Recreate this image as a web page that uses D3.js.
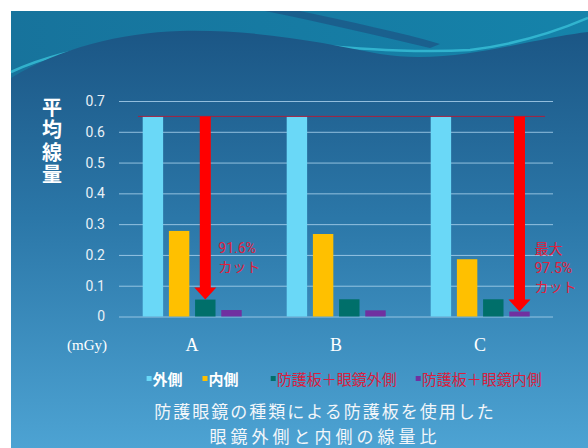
<!DOCTYPE html>
<html>
<head>
<meta charset="utf-8">
<script src="https://cdn.jsdelivr.net/npm/d3@7"></script>
<style>
  body { margin: 0; background: #fff; }
  svg { display: block; }
</style>
</head>
<body>
<svg id="chart" width="588" height="448"></svg>
<script>
// data
const categories = ['A', 'B', 'C'];
const seriesNames = ['外側', '内側', '防護板＋眼鏡外側', '防護板＋眼鏡内側'];
const seriesColors = ['#6ad8f7', '#ffc000', '#006f6a', '#7030a0'];
const outerValues = [0.65, 0.65, 0.65];
const innerValues = [0.278, 0.268, 0.186];
const shieldOuterValues = [0.055, 0.056, 0.056];
const shieldInnerValues = [0.021, 0.020, 0.016];
const yTicks = [0, 0.1, 0.2, 0.3, 0.4, 0.5, 0.6, 0.7];
const yTitle = '平均線量';
const unitLabel = '(mGy)';
const titleLines = ['防護眼鏡の種類による防護板を使用した', '眼鏡外側と内側の線量比'];
const cutNotes = [
  { cat: 'A', series: 2, lines: ['91.6%', 'カット'] },
  { cat: 'C', series: 3, lines: ['最大', '97.5%', 'カット'] }
];
const refValue = 0.65;

const seriesValues = [outerValues, innerValues, shieldOuterValues, shieldInnerValues];
const rows = categories.map((c, i) => ({
  cat: c,
  vals: seriesNames.map((s, j) => ({ cat: c, s: j, v: seriesValues[j][i] }))
}));

const svg = d3.select('#chart');
const jp = '"Noto Sans CJK JP", "Noto Sans", sans-serif';

// background
const defs = svg.append('defs');
const bg = defs.append('linearGradient').attr('id', 'bg').attr('x1', 0).attr('y1', 0).attr('x2', 0).attr('y2', 1);
bg.append('stop').attr('offset', '0').attr('stop-color', '#1b5685');
bg.append('stop').attr('offset', '0.45').attr('stop-color', '#2b77a8');
bg.append('stop').attr('offset', '1').attr('stop-color', '#4da3d3');
const topGrad = defs.append('linearGradient').attr('id', 'topg').attr('x1', 0).attr('y1', 0).attr('x2', 1).attr('y2', 0);
topGrad.append('stop').attr('offset', '0').attr('stop-color', '#17739c');
topGrad.append('stop').attr('offset', '1').attr('stop-color', '#1583aa');

svg.append('rect').attr('x', 11).attr('y', 11).attr('width', 577).attr('height', 437).attr('fill', 'url(#topg)');
// dark diagonal streak
svg.append('path')
  .attr('d', 'M265,11 L300,11 C350,22 400,32 440,44 L430,48 C380,36 320,22 265,11 Z')
  .attr('fill', '#1b5a8a').attr('opacity', 0.85);
// light streak
svg.append('path')
  .attr('d', 'M11,72 C80,40 160,38 260,42 C340,46 400,54 470,50 C520,44 560,30 588,18')
  .attr('fill', 'none').attr('stroke', '#38c0d8').attr('stroke-width', 2.5).attr('opacity', 0.8);
// main body
svg.append('path')
  .attr('d', 'M11,78 C60,48 120,33 180,31 C260,29 330,44 380,54 C430,62 480,52 520,44 C550,38 570,34 588,32 L588,448 L11,448 Z')
  .attr('fill', 'url(#bg)');

// scales
const x0 = d3.scaleBand().domain(categories).range([120, 552]);
const x1 = d3.scaleBand().domain(d3.range(seriesNames.length)).range([22.7, 121.7]).paddingInner(0.22);
const y = d3.scaleLinear().domain([0, 0.7]).range([316.5, 101]);

// grid + y axis
const yAxis = d3.axisLeft(y).tickValues(yTicks).tickFormat(d => d === 0 ? '0' : d3.format('.1f')(d)).tickSize(-434).tickPadding(14);
const ax = svg.append('g').attr('transform', 'translate(119,0)').call(yAxis);
ax.select('.domain').remove();
ax.selectAll('.tick line').attr('stroke', '#a6cfea').attr('stroke-width', 1).attr('opacity', 0.85);
ax.selectAll('.tick text').attr('fill', '#e8f0f6').attr('font-family', 'Roboto, "Noto Sans", sans-serif').attr('font-size', 14);

// bars
const groups = svg.append('g').selectAll('g').data(rows).enter().append('g')
  .attr('transform', d => `translate(${x0(d.cat)},0)`);
groups.selectAll('rect').data(d => d.vals).enter().append('rect')
  .attr('x', d => x1(d.s))
  .attr('y', d => y(d.v))
  .attr('width', x1.bandwidth())
  .attr('height', d => y(0) - y(d.v))
  .attr('fill', d => seriesColors[d.s]);

// reference line
svg.append('line')
  .attr('x1', 138).attr('x2', 545)
  .attr('y1', y(refValue)).attr('y2', y(refValue))
  .attr('stroke', '#a8203e').attr('stroke-width', 1);

// arrows and notes
cutNotes.forEach(n => {
  const ci = categories.indexOf(n.cat);
  const cx = x0(n.cat) + x1(n.series) + x1.bandwidth() / 2;
  const tipY = y(seriesValues[n.series][ci]);
  const y0 = y(refValue);
  const headH = 12;
  svg.append('path')
    .attr('d', `M${cx - 5.5},${y0} L${cx + 5.5},${y0} L${cx + 5.5},${tipY - headH} L${cx + 11},${tipY - headH} L${cx},${tipY} L${cx - 11},${tipY - headH} L${cx - 5.5},${tipY - headH} Z`)
    .attr('fill', '#ff0000');
  const tx = n.lines.length === 2 ? cx + 13 : cx + 15;
  const startY = n.lines.length === 2 ? 253 : 254;
  svg.append('g').selectAll('text').data(n.lines).enter().append('text')
    .attr('x', tx).attr('y', (d, i) => startY + i * 19)
    .attr('fill', '#e0203c')
    .attr('font-family', 'Roboto, ' + jp).attr('font-size', 14)
    .text(d => d);
});

// y title (vertical)
svg.append('text')
  .attr('x', 52).attr('y', 97)
  .style('writing-mode', 'vertical-rl')
  .attr('letter-spacing', 2.5)
  .attr('fill', '#ffffff').attr('font-weight', 'bold')
  .attr('font-family', jp).attr('font-size', 20)
  .text(yTitle);

// category labels
svg.append('g').selectAll('text').data(categories).enter().append('text')
  .attr('x', d => x0(d) + x0.bandwidth() / 2).attr('y', 351)
  .attr('text-anchor', 'middle')
  .attr('fill', '#ffffff')
  .attr('font-family', '"Liberation Serif", "DejaVu Serif", serif').attr('font-size', 18)
  .text(d => d);
svg.append('text').attr('x', 87).attr('y', 350).attr('text-anchor', 'middle')
  .attr('fill', '#ffffff').attr('font-family', '"Liberation Serif", serif').attr('font-size', 15)
  .text(unitLabel);

// legend
const legendX = [146.6, 202.5, 270.7, 415.7];
const legendTextColor = ['#ffffff', '#ffffff', '#d8203e', '#d8203e'];
const leg = svg.append('g').selectAll('g').data(seriesNames).enter().append('g')
  .attr('transform', (d, i) => `translate(${legendX[i]},0)`);
leg.append('rect').attr('x', 0).attr('y', 376).attr('width', 5).attr('height', 5)
  .attr('fill', (d, i) => seriesColors[i]);
leg.append('text').attr('x', 6).attr('y', 385)
  .attr('fill', (d, i) => legendTextColor[i])
  .attr('font-weight', (d, i) => i < 2 ? 'bold' : 'normal')
  .attr('font-family', jp).attr('font-size', 15)
  .text(d => d);

// title
svg.append('g').selectAll('text').data(titleLines).enter().append('text')
  .attr('x', 325).attr('y', (d, i) => 418 + i * 25)
  .attr('text-anchor', 'middle')
  .attr('fill', '#f2f6fa')
  .attr('font-family', jp).attr('font-size', 17)
  .attr('letter-spacing', (d, i) => i === 1 ? 4 : 2)
  .text(d => d);
</script>
</body>
</html>
